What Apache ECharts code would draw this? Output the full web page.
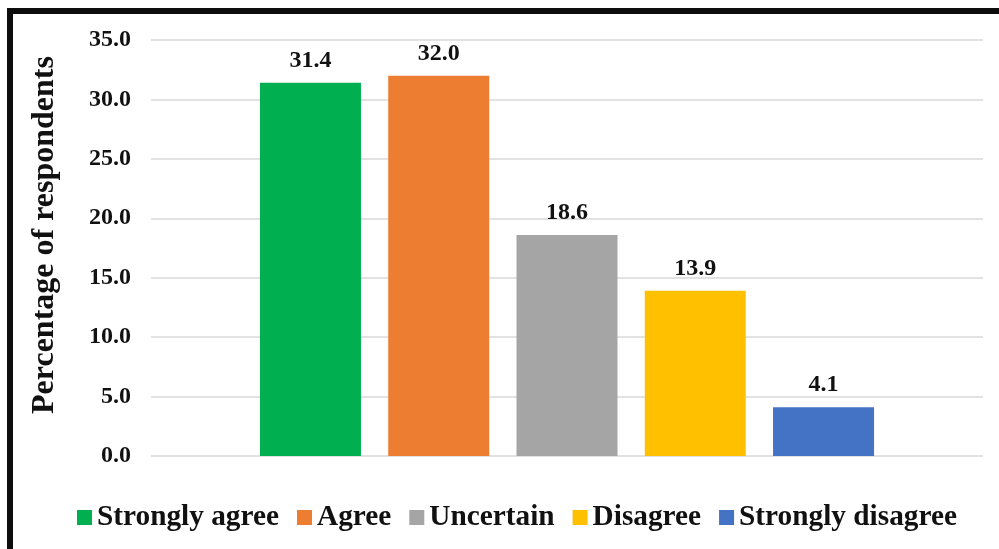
<!DOCTYPE html>
<html>
<head>
<meta charset="utf-8">
<script src="https://cdn.jsdelivr.net/npm/echarts@6/dist/echarts.min.js"></script>
<style>
  html, body { margin: 0; padding: 0; background: #fff; }
  #chart { width: 999px; height: 549px; }
</style>
</head>
<body>
<div id="chart"></div>
<script>
const seriesNames = ['Strongly agree', 'Agree', 'Uncertain', 'Disagree', 'Strongly disagree'];
const percentages = [31.4, 32.0, 18.6, 13.9, 4.1];
const barColors = ['#00b050', '#ed7d31', '#a5a5a5', '#ffc000', '#4472c4'];
const yTicks = [0, 5, 10, 15, 20, 25, 30, 35];

const serif = "'Liberation Serif', 'Times New Roman', serif";

const chart = echarts.init(document.getElementById('chart'));

const series = seriesNames.map((name, i) => ({
  name: name,
  type: 'bar',
  data: [percentages[i]],
  barWidth: 101,
  barGap: '27%',
  itemStyle: { color: barColors[i] },
  label: {
    show: true,
    position: 'top',
    distance: 10,
    formatter: p => p.value.toFixed(1),
    color: '#111',
    fontFamily: serif,
    fontWeight: 'bold',
    fontSize: 24
  }
}));

const option = {
  animation: false,
  grid: { left: 151, right: 16, top: 40, bottom: 93 },
  legend: {
    left: 72,
    top: 498,
    itemWidth: 15,
    itemHeight: 15,
    itemGap: 18,
    icon: 'rect',
    textStyle: {
      fontFamily: serif,
      fontWeight: 'bold',
      fontSize: 29.3,
      color: '#111'
    },
    data: seriesNames
  },
  xAxis: {
    type: 'category',
    data: [''],
    axisLine: { show: false },
    axisTick: { show: false },
    axisLabel: { show: false }
  },
  yAxis: {
    type: 'value',
    min: yTicks[0],
    max: yTicks[yTicks.length - 1],
    interval: 5,
    name: 'Percentage of respondents',
    nameLocation: 'middle',
    nameGap: 90,
    nameTextStyle: {
      fontFamily: serif,
      fontWeight: 'bold',
      fontSize: 32,
      color: '#111',
      padding: [0, 0, 0, 26]
    },
    axisLabel: {
      formatter: v => v.toFixed(1),
      fontFamily: serif,
      fontWeight: 'bold',
      fontSize: 24,
      color: '#111',
      margin: 20
    },
    splitLine: { lineStyle: { color: '#d9d9d9', width: 1.5 } }
  },
  graphic: [
    { type: 'rect', left: 7, top: 8, shape: { width: 992, height: 6 }, style: { fill: '#0d0d0d' } },
    { type: 'rect', left: 7, top: 8, shape: { width: 6, height: 541 }, style: { fill: '#0d0d0d' } }
  ],
  series: series
};

chart.setOption(option);
</script>
</body>
</html>
